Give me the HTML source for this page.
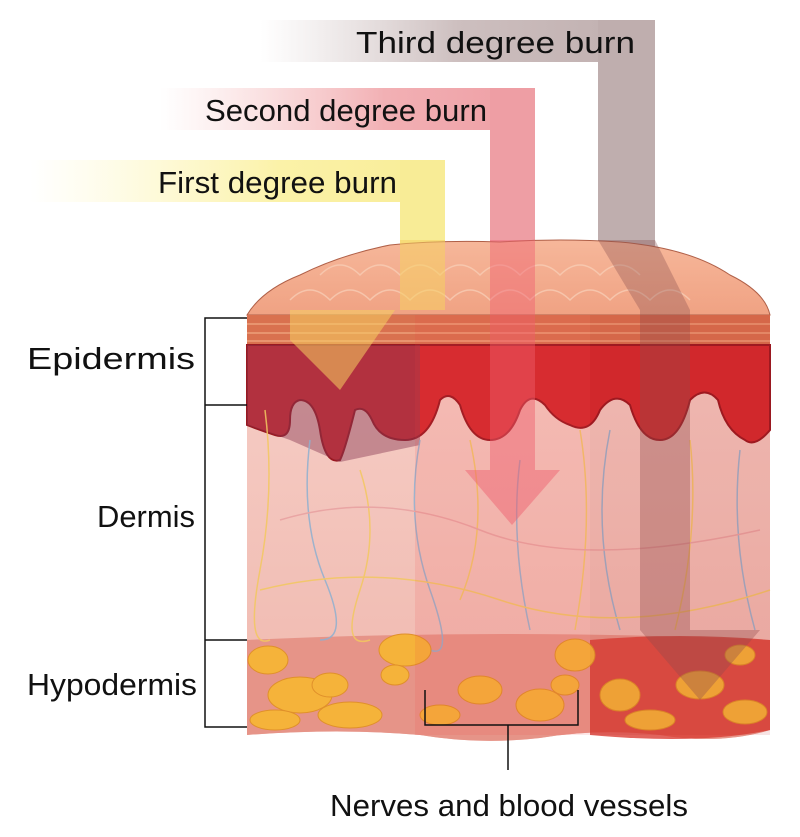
<!DOCTYPE html>
<html><head><style>
html,body{margin:0;padding:0;background:#fff;width:800px;height:837px;overflow:hidden}
text{font-family:"Liberation Sans",sans-serif;fill:#111}
</style></head><body>
<svg width="800" height="837" viewBox="0 0 800 837" xmlns="http://www.w3.org/2000/svg">
<defs>
<linearGradient id="gy" x1="0" x2="1"><stop offset="0" stop-color="#fff7c0" stop-opacity="0"/><stop offset="0.6" stop-color="#fbf2a8"/><stop offset="1" stop-color="#f8ec96"/></linearGradient>
<linearGradient id="gp" x1="0" x2="1"><stop offset="0" stop-color="#f7c6c6" stop-opacity="0"/><stop offset="0.6" stop-color="#f2b0b4"/><stop offset="1" stop-color="#ee9ea4"/></linearGradient>
<linearGradient id="gg" x1="0" x2="1"><stop offset="0" stop-color="#d8cccc" stop-opacity="0"/><stop offset="0.5" stop-color="#cdbfbf"/><stop offset="1" stop-color="#bfaeae"/></linearGradient>
<linearGradient id="top" x1="0" y1="0" x2="0" y2="1"><stop offset="0" stop-color="#f6b79a"/><stop offset="1" stop-color="#f0a283"/></linearGradient>
<linearGradient id="derm" x1="0" y1="0" x2="0" y2="1"><stop offset="0" stop-color="#f7d3cc"/><stop offset="1" stop-color="#f0b8ae"/></linearGradient>
</defs>
<rect x="260" y="20" width="395" height="42" fill="url(#gg)"/>
<rect x="160" y="88" width="375" height="42" fill="url(#gp)"/>
<rect x="30" y="160" width="415" height="42" fill="url(#gy)"/>
<rect x="598" y="20" width="57" height="230" fill="#bfaeae"/>
<rect x="490" y="88" width="45" height="160" fill="#ee9ea4"/>
<rect x="400" y="160" width="45" height="90" fill="#f8ec96"/>

<path d="M247,315 Q262,290 300,275 Q340,255 390,245 Q440,240 500,242 Q560,238 620,242 Q690,248 730,275 Q765,292 770,315 L770,730 Q720,745 660,735 Q600,728 540,738 Q480,745 420,735 Q340,728 247,735 Z" fill="url(#derm)"/>
<path d="M247,315 Q262,290 300,275 Q340,255 390,245 Q440,240 500,242 Q560,238 620,242 Q690,248 730,275 Q765,292 770,315 Z" fill="url(#top)" stroke="#b06048" stroke-width="1"/>
<g fill="none" stroke="#f8cdb5" stroke-width="1.5" opacity="0.8">
<path d="M290,300 q20,-20 40,0 q20,-20 40,0 q20,-20 40,0 q20,-20 40,0 q20,-20 40,0 q20,-20 40,0 q20,-20 40,0 q20,-20 40,0 q20,-20 40,0 q20,-20 40,0"/>
<path d="M320,275 q20,-20 40,0 q20,-20 40,0 q20,-20 40,0 q20,-20 40,0 q20,-20 40,0 q20,-20 40,0 q20,-20 40,0 q20,-20 40,0"/>
</g>
<rect x="247" y="315" width="523" height="32" fill="#d9714f"/>
<g stroke="#eea07a" stroke-width="1.5" fill="none"><path d="M247,324 H770 M247,333 H770 M247,341 H770"/></g>
<path d="M247,345 H770 V430 Q755,448 745,440 Q725,430 718,400 Q705,385 690,400 Q680,440 660,440 Q640,440 630,405 Q615,390 600,410 Q590,435 570,425 Q555,420 545,405 Q530,390 520,410 Q510,440 490,440 Q470,440 460,405 Q450,390 440,400 Q430,440 405,440 Q380,440 372,420 Q365,405 355,410 Q345,450 340,460 Q325,465 320,430 Q315,400 300,400 Q290,402 290,420 Q290,440 275,435 Q260,430 247,425 Z" fill="#d42a2e" stroke="#9a1820" stroke-width="2"/>
<path d="M247,345 H420 V445 L340,462 L290,440 L247,425 Z" fill="#8a3a55" opacity="0.45"/>
<path d="M247,640 Q500,628 770,640 V730 Q720,745 660,735 Q600,728 540,738 Q480,745 420,735 Q340,728 247,735 Z" fill="#e69488"/>
<path d="M590,640 Q680,632 770,640 V730 Q700,745 590,735 Z" fill="#d93d35" opacity="0.8"/>
<g fill="none" stroke-width="1.5" opacity="0.85">
<path d="M265,410 q10,80 -5,160 t10,70" stroke="#f3c860"/>
<path d="M310,440 q-10,80 15,140 t-5,60" stroke="#8fb0d0"/>
<path d="M360,470 q20,60 0,120 t10,50" stroke="#f3c860"/>
<path d="M420,440 q-15,80 10,150 t0,60" stroke="#8fb0d0"/>
<path d="M470,440 q20,90 -10,160" stroke="#f3c860"/>
<path d="M520,460 q-10,80 10,170" stroke="#8fb0d0"/>
<path d="M580,430 q15,90 -5,200" stroke="#f3c860"/>
<path d="M610,430 q-20,100 10,200" stroke="#8fb0d0"/>
<path d="M690,440 q10,90 -15,190" stroke="#f3c860"/>
<path d="M740,450 q-10,90 15,180" stroke="#8fb0d0"/>
<path d="M280,520 q100,-30 200,10 t280,0" stroke="#e8a0a0"/>
<path d="M260,590 q120,-30 240,10 t270,-10" stroke="#f3c860"/>
</g>
<g fill="#f5b33a" stroke="#e0902a" stroke-width="1">
<ellipse cx="268" cy="660" rx="20" ry="14"/><ellipse cx="300" cy="695" rx="32" ry="18"/><ellipse cx="275" cy="720" rx="25" ry="10"/>
<ellipse cx="350" cy="715" rx="32" ry="13"/><ellipse cx="330" cy="685" rx="18" ry="12"/><ellipse cx="405" cy="650" rx="26" ry="16"/>
<ellipse cx="395" cy="675" rx="14" ry="10"/>
<ellipse cx="440" cy="715" rx="20" ry="10"/><ellipse cx="480" cy="690" rx="22" ry="14"/><ellipse cx="540" cy="705" rx="24" ry="16"/>
<ellipse cx="575" cy="655" rx="20" ry="16"/><ellipse cx="565" cy="685" rx="14" ry="10"/><ellipse cx="620" cy="695" rx="20" ry="16"/><ellipse cx="650" cy="720" rx="25" ry="10"/>
<ellipse cx="700" cy="685" rx="24" ry="14"/><ellipse cx="745" cy="712" rx="22" ry="12"/><ellipse cx="740" cy="655" rx="15" ry="10"/>
</g>
<path d="M400,240 H445 V310 H395 L340,390 L290,340 V310 H400 Z" fill="#f5d060" opacity="0.55"/>
<path d="M490,240 H535 V470 H560 L512,525 L465,470 H490 Z" fill="#f06070" opacity="0.45"/>
<path d="M598,240 H655 L690,310 V630 H760 L700,700 L640,630 V310 Z" fill="#8a5050" opacity="0.35"/>
<rect x="415" y="315" width="175" height="420" fill="#f04040" opacity="0.12"/>
<rect x="590" y="315" width="180" height="420" fill="#c02020" opacity="0.12"/>

<g stroke="#111" stroke-width="1.5" fill="none">
<path d="M247,318 H205 V727 H247 M205,405 H247 M205,640 H247"/>
<path d="M425,690 V725 H578 V690 M508,725 V770"/>
</g>
<g font-size="31">
<text x="356" y="53" textLength="279" lengthAdjust="spacingAndGlyphs">Third degree burn</text>
<text x="205" y="121" textLength="282" lengthAdjust="spacingAndGlyphs">Second degree burn</text>
<text x="158" y="193" textLength="239" lengthAdjust="spacingAndGlyphs">First degree burn</text>
<text x="27" y="369" textLength="168" lengthAdjust="spacingAndGlyphs">Epidermis</text>
<text x="97" y="527" textLength="98" lengthAdjust="spacingAndGlyphs">Dermis</text>
<text x="27" y="695" textLength="170" lengthAdjust="spacingAndGlyphs">Hypodermis</text>
<text x="330" y="816" textLength="358" lengthAdjust="spacingAndGlyphs">Nerves and blood vessels</text>
</g>
</svg>
</body></html>
